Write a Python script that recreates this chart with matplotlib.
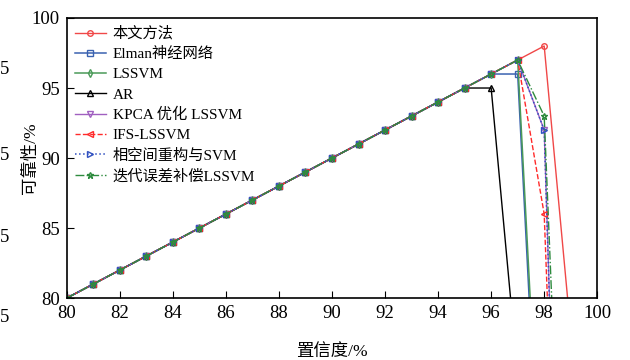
import matplotlib
matplotlib.use('Agg')
import matplotlib.pyplot as plt

plt.rcParams['font.family'] = ['Liberation Serif', 'Noto Sans CJK SC']

# confidence (x) and reliability (y) for each method
x_ours = [80, 81, 82, 83, 84, 85, 86, 87, 88, 89, 90, 91, 92, 93, 94, 95, 96, 97, 98, 99]
y_ours = [80, 81, 82, 83, 84, 85, 86, 87, 88, 89, 90, 91, 92, 93, 94, 95, 96, 97, 98, 77.6]

x_elman = [80, 81, 82, 83, 84, 85, 86, 87, 88, 89, 90, 91, 92, 93, 94, 95, 96, 97, 98]
y_elman = [80, 81, 82, 83, 84, 85, 86, 87, 88, 89, 90, 91, 92, 93, 94, 95, 96, 96, 59]

x_lssvm = [80, 81, 82, 83, 84, 85, 86, 87, 88, 89, 90, 91, 92, 93, 94, 95, 96, 97, 98]
y_lssvm = [80, 81, 82, 83, 84, 85, 86, 87, 88, 89, 90, 91, 92, 93, 94, 95, 96, 97, 61]

x_ar = [80, 81, 82, 83, 84, 85, 86, 87, 88, 89, 90, 91, 92, 93, 94, 95, 96, 97]
y_ar = [80, 81, 82, 83, 84, 85, 86, 87, 88, 89, 90, 91, 92, 93, 94, 95, 95, 74.5]

x_kpca = [80, 81, 82, 83, 84, 85, 86, 87, 88, 89, 90, 91, 92, 93, 94, 95, 96, 97, 98, 99]
y_kpca = [80, 81, 82, 83, 84, 85, 86, 87, 88, 89, 90, 91, 92, 93, 94, 95, 96, 97, 92, 32]

x_ifs = [80, 81, 82, 83, 84, 85, 86, 87, 88, 89, 90, 91, 92, 93, 94, 95, 96, 97, 98, 99]
y_ifs = [80, 81, 82, 83, 84, 85, 86, 87, 88, 89, 90, 91, 92, 93, 94, 95, 96, 97, 86, 36]

x_psr = [80, 81, 82, 83, 84, 85, 86, 87, 88, 89, 90, 91, 92, 93, 94, 95, 96, 97, 98, 99]
y_psr = [80, 81, 82, 83, 84, 85, 86, 87, 88, 89, 90, 91, 92, 93, 94, 95, 96, 97, 92, 30]

x_iter = [80, 81, 82, 83, 84, 85, 86, 87, 88, 89, 90, 91, 92, 93, 94, 95, 96, 97, 98, 99]
y_iter = [80, 81, 82, 83, 84, 85, 86, 87, 88, 89, 90, 91, 92, 93, 94, 95, 96, 97, 93, 47]

fig = plt.figure(figsize=(6.3, 3.6), dpi=100)
ax = fig.add_axes([0.106, 0.172, 0.842, 0.778])

ms = 4
ax.plot(x_ours, y_ours, '-o', color='#f04848', lw=1, ms=ms, mfc='none', label='本文方法')
ax.plot(x_elman, y_elman, '-s', color='#3a62b0', lw=1.1, ms=ms, mfc='none', label='Elman神经网络')
ax.plot(x_lssvm, y_lssvm, '-d', color='#4a9a58', lw=1.1, ms=ms, mfc='none', label='LSSVM')
ax.plot(x_ar, y_ar, '-^', color='black', lw=1, ms=ms, mfc='none', label='AR')
ax.plot(x_kpca, y_kpca, '-v', color='#a060c0', lw=1, ms=ms, mfc='none', label='KPCA 优化 LSSVM')
ax.plot(x_ifs, y_ifs, '--<', color='#ff2a2a', lw=1, ms=ms, mfc='none', label='IFS-LSSVM')
ax.plot(x_psr, y_psr, ':>', color='#3050c0', lw=1.1, ms=ms, mfc='none', label='相空间重构与SVM')
ax.plot(x_iter, y_iter, '-.*', color='#2e8b3e', lw=1, ms=ms + 1, mfc='none', label='迭代误差补偿LSSVM')

ax.set_xlim(80, 100)
ax.set_ylim(80, 100)
ax.set_xticks(range(80, 101, 2))
ax.set_yticks(range(80, 101, 5))
ax.tick_params(direction='in', length=5, labelsize=13.5, pad=5, top=False, right=False)
for s in ax.spines.values():
    s.set_linewidth(1.2)

ax.set_xlabel('置信度/%', fontsize=12.5, labelpad=16)
ax.set_ylabel('可靠性/%', fontsize=12.5, labelpad=-5)

ax.legend(loc='upper left', frameon=False, fontsize=11, handlelength=2.0,
          labelspacing=0.42, borderaxespad=0.15, handletextpad=0.45,
          bbox_to_anchor=(0.0, 1.0))

# partial labels of a neighbouring chart cut at the left edge
for yy in [0.806, 0.569, 0.339, 0.117]:
    fig.text(0.014, yy, '5', ha='right', va='center', fontsize=13.5)

fig.savefig('out.png', dpi=100)
